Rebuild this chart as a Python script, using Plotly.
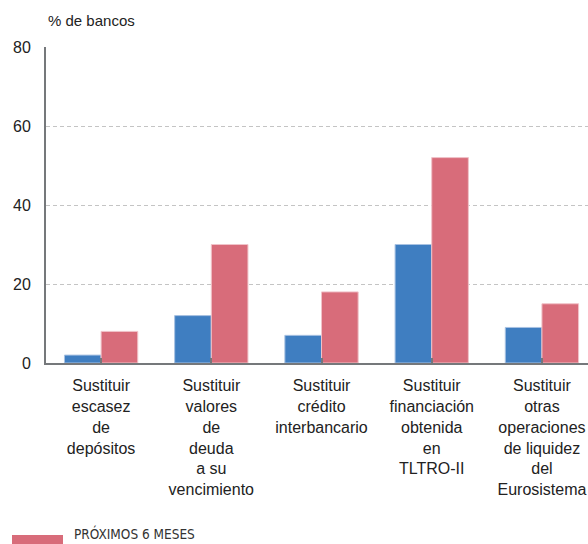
import plotly.graph_objects as go

# Data
categories = [
    "Sustituir<br>escasez<br>de<br>depósitos",
    "Sustituir<br>valores<br>de<br>deuda<br>a su<br>vencimiento",
    "Sustituir<br>crédito<br>interbancario",
    "Sustituir<br>financiación<br>obtenida<br>en<br>TLTRO-II",
    "Sustituir<br>otras<br>operaciones<br>de liquidez<br>del<br>Eurosistema",
]
ultimos_6_meses = [2, 12, 7, 30, 9]
proximos_6_meses = [8, 30, 18, 52, 15]
y_ticks = [0, 20, 40, 60, 80]

BLUE = "#3f7ec1"
PINK = "#d86c7a"
FONT = "Liberation Sans, Arial, sans-serif"

fig = go.Figure()
fig.add_trace(go.Bar(
    x=list(range(len(categories))), y=ultimos_6_meses, name="ÚLTIMOS 6 MESES",
    marker=dict(color=BLUE, line=dict(color="#a8c2e2", width=1)),
    showlegend=False,
))
fig.add_trace(go.Bar(
    x=list(range(len(categories))), y=proximos_6_meses, name="PRÓXIMOS 6 MESES",
    marker=dict(color=PINK, line=dict(color="#f0c3c9", width=1)),
    showlegend=False,
))

fig.update_layout(
    width=588, height=544,
    margin=dict(l=46, r=0, t=47, b=181),
    paper_bgcolor="white", plot_bgcolor="white",
    barmode="group", bargap=0.335, bargroupgap=0,
    font=dict(family=FONT, size=16, color="#222222"),
)

fig.update_xaxes(
    range=[-0.5, 4.418],
    tickmode="array", tickvals=list(range(len(categories))), ticktext=categories,
    tickson="boundaries", ticks="inside", ticklen=5, tickwidth=2, tickcolor="#75787b",
    showline=True, linecolor="#75787b", linewidth=2,
    showgrid=False, zeroline=False, ticklabelstandoff=7,
    tickfont=dict(size=16, color="#222222"),
)
fig.update_yaxes(
    range=[0, 80],
    tickmode="array", tickvals=y_ticks, ticktext=[str(v) for v in y_ticks],
    showline=True, linecolor="#75787b", linewidth=2,
    showgrid=True, gridcolor="#c4c4c4", griddash="4px,3px", gridwidth=1,
    zeroline=False, ticks="", ticklabelstandoff=10,
    tickfont=dict(size=16, color="#222222"),
)

# Axis unit label
fig.add_annotation(
    text="% de bancos", xref="paper", yref="paper", x=0, y=1,
    xanchor="left", yanchor="bottom", yshift=16, showarrow=False,
    font=dict(size=15, color="#222222"),
)

# Legend entry
fig.add_shape(
    type="rect", xref="paper", yref="paper",
    x0=(12 - 46) / 542, x1=(63 - 46) / 542,
    y0=-(535 - 363) / 316, y1=-(548 - 363) / 316,
    fillcolor=PINK, line=dict(width=0),
)
fig.add_annotation(
    text="PRÓXIMOS 6 MESES", xref="paper", yref="paper",
    x=(72 - 46) / 542, y=-(544 - 363) / 316,
    xanchor="left", yanchor="bottom", showarrow=False,
    font=dict(family="Liberation Sans Narrow, DejaVu Sans Condensed, sans-serif",
              size=13.5, color="#333333"),
)

fig.write_html("out.html")
